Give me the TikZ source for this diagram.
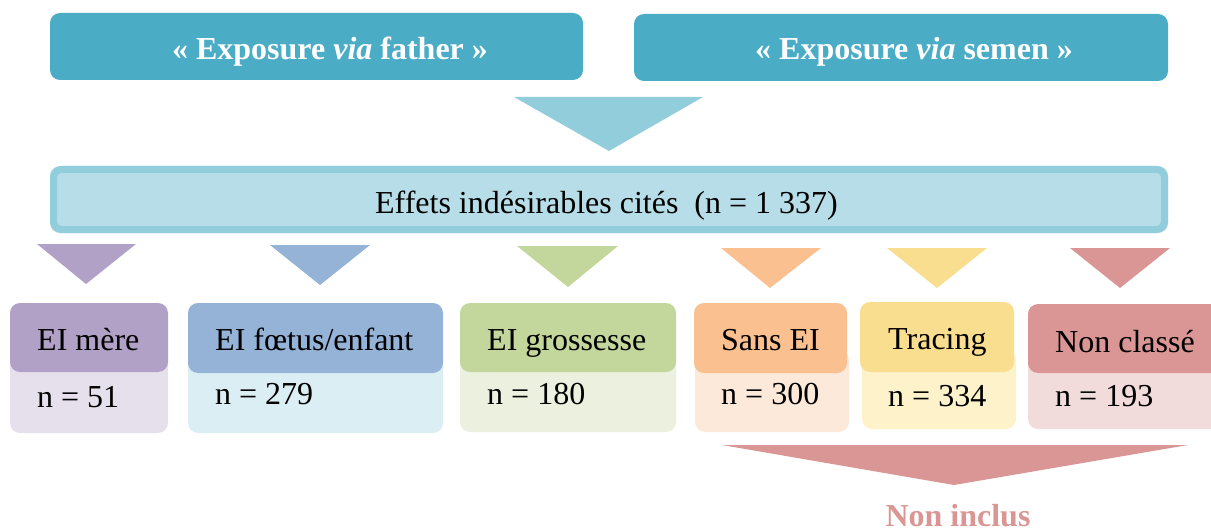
\documentclass[tikz,border=0pt]{standalone}
\usepackage{fontspec}
\setmainfont{Liberation Serif}
\definecolor{topblue}{HTML}{4BACC6}
\definecolor{midblue}{HTML}{92CDDC}
\definecolor{barfill}{HTML}{B7DEE8}
\definecolor{purH}{HTML}{B2A1C7}\definecolor{purL}{HTML}{E5E0EC}
\definecolor{bluH}{HTML}{95B3D7}\definecolor{bluL}{HTML}{DBEEF3}
\definecolor{greH}{HTML}{C3D69B}\definecolor{greL}{HTML}{EBF1DE}
\definecolor{oraH}{HTML}{FAC090}\definecolor{oraL}{HTML}{FDE9D9}
\definecolor{yelH}{HTML}{F9DE8F}\definecolor{yelL}{HTML}{FEF2CB}
\definecolor{redH}{HTML}{D99694}\definecolor{redL}{HTML}{F2DCDB}
\tikzset{
  bigtxt/.style={font=\fontsize{32}{38}\selectfont, inner sep=0pt},
  titletxt/.style={bigtxt, font=\fontsize{32}{38}\selectfont\bfseries, text=white, anchor=base},
  lbl/.style={bigtxt, anchor=base west},
  rbox/.style={rounded corners=10pt},
}
\begin{document}
\begin{tikzpicture}[x=1pt,y=-1pt]
\useasboundingbox (0,0) rectangle (1211,532);
% top boxes
\fill[topblue,rbox] (50,13) rectangle (583,80);
\fill[topblue,rbox] (634,14) rectangle (1168,81);
\node[titletxt] (father) at (330,60) {« Exposure \textit{via} father »};
\node[titletxt] (semen) at (914,60) {« Exposure \textit{via} semen »};
% big triangle
\fill[midblue] (514,97) -- (703,97) -- (609,151) -- cycle;
% bar
\fill[barfill,rbox] (50,166) rectangle (1168,233);
\draw[midblue,line width=7pt,rounded corners=8pt] (53.5,169.5) rectangle (1164.5,229.5);
\node[bigtxt,anchor=base] (effets) at (606.5,213) {Effets indésirables cités \ (n = 1 337)};
% small triangles
\fill[purH] (37,244) -- (136,244) -- (86,284) -- cycle;
\fill[bluH] (270,245) -- (370,245) -- (320,285) -- cycle;
\fill[greH] (517,246) -- (618,246) -- (568,287) -- cycle;
\fill[oraH] (721,248) -- (821,248) -- (770,288) -- cycle;
\fill[yelH] (887,248) -- (987,248) -- (937,288) -- cycle;
\fill[redH] (1070,248) -- (1170,248) -- (1120,288) -- cycle;
% category boxes
\fill[purL,rbox] (10,350) rectangle (168,433);
\fill[purH,rbox] (10,303) rectangle (168,372);
\node[lbl] (mere) at (37,350) {EI mère};
\node[lbl] (nmere) at (37,407) {n = 51};
\fill[bluL,rbox] (188,350) rectangle (443,433);
\fill[bluH,rbox] (188,303) rectangle (443,373);
\node[lbl] (foetus) at (215,350) {EI fœtus/enfant};
\node[lbl] (nfoetus) at (215,404) {n = 279};
\fill[greL,rbox] (460,350) rectangle (676,432);
\fill[greH,rbox] (460,303) rectangle (676,372);
\node[lbl] (gross) at (487,350) {EI grossesse};
\node[lbl] (ngross) at (487,404) {n = 180};
\fill[oraL,rbox] (695,350) rectangle (849,432);
\fill[oraH,rbox] (694,303) rectangle (847,373);
\node[lbl] (sans) at (721,350) {Sans EI};
\node[lbl] (nsans) at (721,404) {n = 300};
\fill[yelL,rbox] (862,350) rectangle (1016,429);
\fill[yelH,rbox] (860,302) rectangle (1014,372);
\node[lbl] (tracing) at (888,349) {Tracing};
\node[lbl] (ntracing) at (888,406) {n = 334};
\fill[redL,rbox] (1028,350) rectangle (1225,429);
\fill[redH,rbox] (1028,304) rectangle (1225,373);
\node[lbl] (nonc) at (1055,352) {Non classé};
\node[lbl] (nnonc) at (1055,406) {n = 193};
% bottom triangle
\fill[redH] (722,445) -- (1188,445) -- (954,485) -- cycle;
\node[bigtxt,anchor=base,font=\fontsize{32}{38}\selectfont\bfseries,text=redH] (noninc) at (958,526) {Non inclus};
\end{tikzpicture}
\end{document}
